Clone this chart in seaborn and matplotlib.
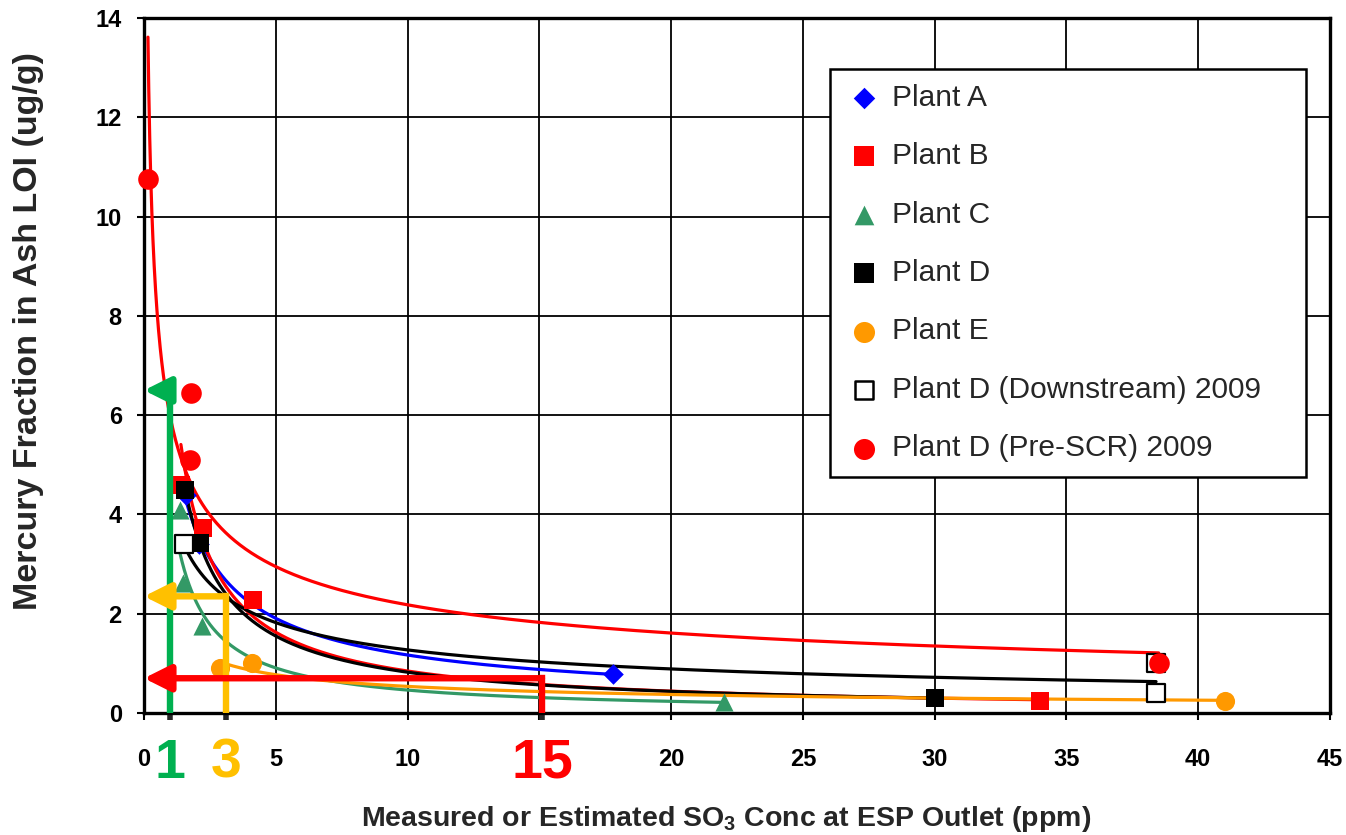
import numpy as np
import pandas as pd
import matplotlib
matplotlib.use("Agg")
import matplotlib.pyplot as plt
import seaborn as sns

# ---------------- data ----------------
series_names = ["Plant A", "Plant B", "Plant C", "Plant D", "Plant E",
                "Plant D (Downstream) 2009", "Plant D (Pre-SCR) 2009"]

plant_a_x = [1.6, 2.1, 17.8]
plant_a_y = [4.4, 3.4, 0.78]
plant_b_x = [1.4, 2.23, 4.13, 34.0]
plant_b_y = [4.6, 3.73, 2.28, 0.25]
plant_c_x = [1.37, 1.48, 2.2, 22.0]
plant_c_y = [4.09, 2.62, 1.75, 0.22]
plant_d_x = [1.56, 2.12, 30.0]
plant_d_y = [4.49, 3.42, 0.30]
plant_e_x = [2.88, 4.1, 41.0]
plant_e_y = [0.90, 1.00, 0.25]
downstream_x = [1.5, 38.4, 38.4]
downstream_y = [3.4, 1.0, 0.4]
pre_scr_x = [0.15, 1.8, 1.75, 38.5]
pre_scr_y = [10.75, 6.45, 5.1, 1.0]

highlight_x = [1.0, 3.1, 15.1]
highlight_y = [6.5, 2.35, 0.7]
highlight_labels = ["1", "3", "15"]
highlight_colors = ["#00B050", "#FFC000", "#FF0000"]

x_ticks = [0, 5, 10, 15, 20, 25, 30, 35, 40, 45]
x_tick_labels = ["0", "5", "10", "", "20", "25", "30", "35", "40", "45"]
y_ticks = [0, 2, 4, 6, 8, 10, 12, 14]

# ---------------- styling ----------------
sns.set_style("ticks")
plt.rcParams["font.family"] = ["Liberation Sans", "DejaVu Sans"]
plt.rcParams["mathtext.fontset"] = "custom"
plt.rcParams["mathtext.rm"] = "Liberation Sans"
plt.rcParams["mathtext.bf"] = "Liberation Sans:bold"

colors = ["#0000FF", "#FF0000", "#339966", "#000000", "#FF9900", "#000000", "#FF0000"]
markers = ["D", "s", "^", "s", "o", "s", "o"]
faces = ["#0000FF", "#FF0000", "#339966", "#000000", "#FF9900", "#FFFFFF", "#FF0000"]
sizes = [110, 150, 170, 150, 190, 150, 220]
legend_sizes = [120, 200, 200, 200, 230, 180, 230]

xs_all = [plant_a_x, plant_b_x, plant_c_x, plant_d_x, plant_e_x, downstream_x, pre_scr_x]
ys_all = [plant_a_y, plant_b_y, plant_c_y, plant_d_y, plant_e_y, downstream_y, pre_scr_y]

frames = []
for name, xv, yv in zip(series_names, xs_all, ys_all):
    frames.append(pd.DataFrame({"x": xv, "y": yv, "series": name}))
df = pd.concat(frames, ignore_index=True)

fig = plt.figure(figsize=(13.46, 8.35), dpi=100)
ax = fig.add_axes([144 / 1346, 1 - 713 / 835, (1330 - 144) / 1346, (713 - 18) / 835])

# power-law trendlines fitted from each series (as the spreadsheet trendlines)
for i, name in enumerate(series_names):
    sub = df[df["series"] == name]
    slope, intercept = np.polyfit(np.log(sub["x"]), np.log(sub["y"]), 1)
    xs = np.geomspace(sub["x"].min(), sub["x"].max(), 300)
    fit = pd.DataFrame({"x": xs, "y": np.exp(intercept) * xs ** slope})
    sns.lineplot(data=fit, x="x", y="y", color=colors[i], lw=2.3, ax=ax,
                 legend=False, zorder=2 + i * 0.01, sort=False)

handles = []
for i, name in enumerate(series_names):
    sub = df[df["series"] == name]
    sns.scatterplot(data=sub, x="x", y="y", marker=markers[i], s=sizes[i],
                    color=faces[i], edgecolor=colors[i], linewidth=1.6 if i == 5 else 0,
                    ax=ax, zorder=3 + i * 0.01, clip_on=False, legend=False)
    h = ax.scatter([], [], marker=markers[i], s=legend_sizes[i], c=faces[i],
                   edgecolors=colors[i], linewidths=1.8 if i == 5 else 0, label=name)
    handles.append(h)

# highlight arrows
for hx, hy, hc in zip(highlight_x, highlight_y, highlight_colors):
    ax.plot([hx, hx], [0, hy], color=hc, lw=4.6, solid_capstyle="projecting", zorder=6)
    ax.annotate("", xy=(0, hy), xytext=(hx, hy),
                arrowprops=dict(arrowstyle="-|>,head_length=0.8,head_width=0.4",
                                color=hc, lw=4.6, shrinkA=0, shrinkB=0,
                                mutation_scale=20), zorder=6)

ax.set_xlim(0, 45)
ax.set_ylim(0, 14)
ax.set_xticks(x_ticks)
ax.set_yticks(y_ticks)
ax.set_xticklabels(x_tick_labels, fontweight="bold")
ax.set_yticklabels([str(t) for t in y_ticks], fontweight="bold")
ax.grid(True, which="major", color="black", lw=1.3)
ax.set_axisbelow(True)

ax.tick_params(axis="both", which="major", direction="out", length=5, width=1.5,
               colors="black", labelsize=17)
ax.tick_params(axis="x", which="major", pad=20)
ax.tick_params(axis="y", which="major", pad=11)

# coloured highlight ticks + big labels
ax.set_xticks(highlight_x, minor=True)
ax.set_xticklabels(highlight_labels, minor=True, fontsize=40, fontweight="bold")
ax.tick_params(axis="x", which="minor", direction="out", length=5, width=4, pad=13)
for t, lab, c in zip(ax.xaxis.get_minor_ticks(), ax.xaxis.get_minorticklabels(), highlight_colors):
    t.tick1line.set_color(c)
    lab.set_color(c)

for sp in ax.spines.values():
    sp.set_color("black")
    sp.set_linewidth(2.4)

ax.set_xlabel(r"Measured or Estimated SO$_\mathbf{3}$ Conc at ESP Outlet (ppm)",
              fontsize=20.5, fontweight="bold")
ax.set_ylabel("Mercury Fraction in Ash LOI (ug/g)", fontsize=24.5, fontweight="bold")
ax.xaxis.set_label_coords(0.491, -0.131)
ax.yaxis.set_label_coords(-0.084, 0.549)

leg = ax.legend(handles=handles, loc="upper left",
                bbox_to_anchor=(0.578, 0.30, 0.402, 0.627), mode="expand",
                fontsize=21.5, frameon=True, fancybox=False, framealpha=1,
                edgecolor="black", labelspacing=1.02, borderpad=0.5,
                handletextpad=0.3, handlelength=1.3, borderaxespad=0)
leg.get_frame().set_linewidth(1.8)
leg.set_zorder(10)

fig.savefig("out.png", dpi=100)
